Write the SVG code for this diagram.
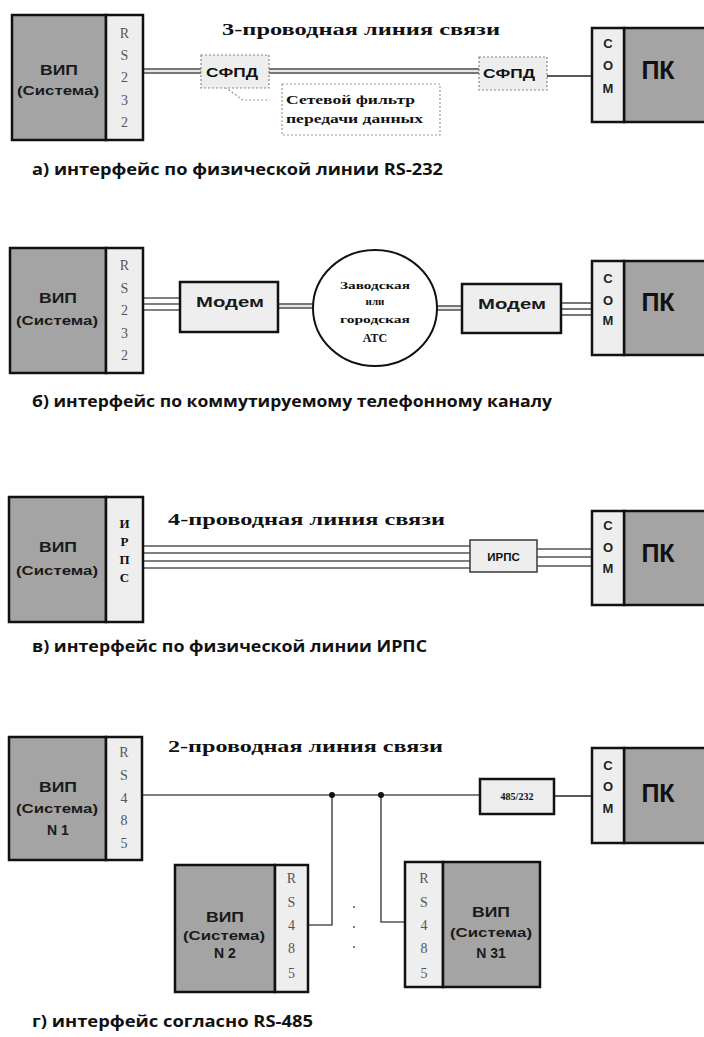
<svg xmlns="http://www.w3.org/2000/svg" width="704" height="1037" viewBox="0 0 704 1037">
<style>
.g{fill:#a4a4a4;stroke:#111;stroke-width:2.5}
.s{fill:#eeeeee;stroke:#111;stroke-width:2.5}
.bx{fill:#eeeeee;stroke:#111;stroke-width:2.5}
.dash{fill:#eeeeee;stroke:#888;stroke-width:1.2;stroke-dasharray:2 2}
.dashn{fill:none;stroke:#999;stroke-width:1.2;stroke-dasharray:2 2}
.sans{font-family:"Liberation Sans",Arial,sans-serif;font-weight:bold;fill:#111}
.vip{font-family:"Liberation Sans",Arial,sans-serif;font-weight:bold;fill:#1a1a1a;text-anchor:middle}
.ser{font-family:"Liberation Serif","Times New Roman",serif;fill:#555;font-size:14px;text-anchor:middle}
.serb{font-family:"Liberation Serif","Times New Roman",serif;font-weight:bold;fill:#111}
.com{font-family:"Liberation Sans",Arial,sans-serif;font-weight:bold;fill:#222;font-size:13px;text-anchor:middle}
.pk{font-family:"Liberation Sans",Arial,sans-serif;font-weight:bold;fill:#111;font-size:25px;text-anchor:middle}
.cap{font-family:"Open Sans","Noto Sans",sans-serif;font-weight:bold;fill:#111;font-size:16px}
.w{stroke:#555;stroke-width:1.6;fill:none}
.wd{stroke:#222;stroke-width:1.6;fill:none}
.bandO{stroke:#777;stroke-width:6;fill:none}
.bandI{stroke:#e6e6e6;stroke-width:2;fill:none}
</style>

<!-- ================= connectors ================= -->
<g id="connectors">
  <!-- panel a -->
  <line class="bandO" x1="143" y1="71" x2="201" y2="71"/>
  <line class="bandI" x1="143" y1="71" x2="201" y2="71"/>
  <line class="bandO" x1="269" y1="71" x2="479" y2="71"/>
  <line class="bandI" x1="269" y1="71" x2="479" y2="71"/>
  <line class="wd" x1="547" y1="76" x2="592" y2="76"/>
  <polyline class="dashn" points="222,85 243,100 270,100"/>
  <!-- panel b -->
  <line class="w" x1="143" y1="298" x2="180" y2="298"/>
  <line class="w" x1="143" y1="304" x2="180" y2="304"/>
  <line class="w" x1="143" y1="310" x2="180" y2="310"/>
  <line class="bandO" x1="278" y1="306" x2="313" y2="306"/>
  <line class="bandI" x1="278" y1="306" x2="313" y2="306"/>
  <line class="bandO" x1="437" y1="308" x2="462" y2="308"/>
  <line class="bandI" x1="437" y1="308" x2="462" y2="308"/>
  <line class="w" x1="561" y1="303" x2="592" y2="303"/>
  <line class="w" x1="561" y1="309" x2="592" y2="309"/>
  <line class="w" x1="561" y1="315" x2="592" y2="315"/>
  <!-- panel v -->
  <line class="w" x1="143" y1="546" x2="470" y2="546"/>
  <line class="w" x1="143" y1="553" x2="470" y2="553"/>
  <line class="w" x1="143" y1="561" x2="470" y2="561"/>
  <line class="w" x1="143" y1="568" x2="470" y2="568"/>
  <line class="w" x1="537" y1="549" x2="592" y2="549"/>
  <line class="w" x1="537" y1="557" x2="592" y2="557"/>
  <line class="w" x1="537" y1="566" x2="592" y2="566"/>
  <!-- panel g -->
  <line class="w" x1="142" y1="795" x2="480" y2="795"/>
  <line class="wd" x1="554" y1="796" x2="592" y2="796"/>
  <polyline class="w" points="332,795 332,925 308,925"/>
  <polyline class="w" points="381,795 381,922 405,922"/>
  <circle cx="332" cy="795" r="3" fill="#111"/>
  <circle cx="381" cy="795" r="3" fill="#111"/>
  <circle cx="354" cy="907" r="1" fill="#555"/>
  <circle cx="354" cy="927" r="1" fill="#555"/>
  <circle cx="354" cy="947" r="1" fill="#555"/>
</g>

<!-- ================= panel a ================= -->
<g id="vip-a">
  <rect class="g" x="12" y="15" width="94" height="125"/>
  <rect class="s" x="106" y="15" width="37" height="125"/>
  <text class="vip" x="59" y="75" font-size="14" textLength="38" lengthAdjust="spacingAndGlyphs">ВИП</text>
  <text class="vip" x="58" y="95" font-size="13" textLength="82" lengthAdjust="spacingAndGlyphs">(Система)</text>
  <text class="ser" x="124.5" y="38">R</text>
  <text class="ser" x="124.5" y="60">S</text>
  <text class="ser" x="124.5" y="82">2</text>
  <text class="ser" x="124.5" y="105">3</text>
  <text class="ser" x="124.5" y="127">2</text>
</g>
<g id="sfpd-1">
  <rect class="dash" x="201" y="55" width="68" height="33"/>
  <text class="sans" x="206" y="77" font-size="13" textLength="52" lengthAdjust="spacingAndGlyphs">СФПД</text>
</g>
<g id="sfpd-2">
  <rect class="dash" x="479" y="57" width="68" height="33"/>
  <text class="sans" x="483" y="78" font-size="13" textLength="52" lengthAdjust="spacingAndGlyphs">СФПД</text>
</g>
<g id="note-a">
  <rect class="dashn" x="282" y="84" width="158" height="51"/>
  <text class="serb" x="286" y="104" font-size="12.5" textLength="129" lengthAdjust="spacingAndGlyphs">Сетевой фильтр</text>
  <text class="serb" x="286" y="123" font-size="12.5" textLength="137" lengthAdjust="spacingAndGlyphs">передачи данных</text>
</g>
<text class="serb" x="222" y="35" font-size="16" textLength="278" lengthAdjust="spacingAndGlyphs">3-проводная линия связи</text>
<g id="pk-a">
  <rect class="g" x="624" y="28" width="90" height="94"/>
  <rect class="s" x="592" y="28" width="32" height="94"/>
  <text class="com" x="608" y="48">C</text>
  <text class="com" x="608" y="70">O</text>
  <text class="com" x="608" y="93">M</text>
  <text class="pk" x="658" y="79">ПК</text>
</g>
<text class="cap" x="32" y="175" textLength="411" lengthAdjust="spacingAndGlyphs">а) интерфейс по физической линии RS-232</text>

<!-- ================= panel b ================= -->
<g id="vip-b">
  <rect class="g" x="10" y="248" width="96" height="125"/>
  <rect class="s" x="106" y="248" width="37" height="125"/>
  <text class="vip" x="58" y="303" font-size="14" textLength="38" lengthAdjust="spacingAndGlyphs">ВИП</text>
  <text class="vip" x="57" y="325" font-size="13" textLength="82" lengthAdjust="spacingAndGlyphs">(Система)</text>
  <text class="ser" x="124.5" y="270">R</text>
  <text class="ser" x="124.5" y="293">S</text>
  <text class="ser" x="124.5" y="315">2</text>
  <text class="ser" x="124.5" y="338">3</text>
  <text class="ser" x="124.5" y="360">2</text>
</g>
<g id="modem-1">
  <rect class="bx" x="180" y="282" width="98" height="50"/>
  <text class="vip" x="230" y="307" font-size="14" textLength="68" lengthAdjust="spacingAndGlyphs">Модем</text>
</g>
<g id="ats">
  <ellipse cx="375" cy="308" rx="62" ry="58" fill="#fff" stroke="#111" stroke-width="2"/>
  <text class="serb" x="375" y="289" font-size="11" text-anchor="middle" fill="#333" textLength="70" lengthAdjust="spacingAndGlyphs">Заводская</text>
  <text class="serb" x="375" y="305" font-size="11" text-anchor="middle" fill="#333">или</text>
  <text class="serb" x="375" y="323" font-size="11" text-anchor="middle" fill="#333" textLength="70" lengthAdjust="spacingAndGlyphs">городская</text>
  <text class="serb" x="375" y="342" font-size="12" text-anchor="middle" fill="#333">АТС</text>
</g>
<g id="modem-2">
  <rect class="bx" x="462" y="284" width="99" height="49"/>
  <text class="vip" x="512" y="309" font-size="14" textLength="68" lengthAdjust="spacingAndGlyphs">Модем</text>
</g>
<g id="pk-b">
  <rect class="g" x="624" y="261" width="90" height="94"/>
  <rect class="s" x="592" y="261" width="32" height="94"/>
  <text class="com" x="608" y="283">C</text>
  <text class="com" x="608" y="305">O</text>
  <text class="com" x="608" y="325">M</text>
  <text class="pk" x="658" y="311">ПК</text>
</g>
<text class="cap" x="32" y="407" textLength="520" lengthAdjust="spacingAndGlyphs">б) интерфейс по коммутируемому телефонному каналу</text>

<!-- ================= panel v ================= -->
<g id="vip-v">
  <rect class="g" x="9" y="497" width="97" height="125"/>
  <rect class="s" x="106" y="497" width="37" height="125"/>
  <text class="vip" x="58" y="552" font-size="14" textLength="38" lengthAdjust="spacingAndGlyphs">ВИП</text>
  <text class="vip" x="57" y="575" font-size="13" textLength="82" lengthAdjust="spacingAndGlyphs">(Система)</text>
  <text class="serb" x="124.5" y="528" font-size="13" text-anchor="middle" fill="#333">И</text>
  <text class="serb" x="124.5" y="546" font-size="13" text-anchor="middle" fill="#333">Р</text>
  <text class="serb" x="124.5" y="564" font-size="13" text-anchor="middle" fill="#333">П</text>
  <text class="serb" x="124.5" y="582" font-size="13" text-anchor="middle" fill="#333">С</text>
</g>
<text class="serb" x="168" y="525" font-size="16" textLength="277" lengthAdjust="spacingAndGlyphs">4-проводная линия связи</text>
<g id="irps">
  <rect x="470" y="540" width="67" height="32" fill="#eeeeee" stroke="#444" stroke-width="1.6"/>
  <text class="sans" x="503.5" y="561" font-size="11.5" text-anchor="middle" fill="#333">ИРПС</text>
</g>
<g id="pk-v">
  <rect class="g" x="624" y="511" width="90" height="94"/>
  <rect class="s" x="592" y="511" width="32" height="94"/>
  <text class="com" x="608" y="530">C</text>
  <text class="com" x="608" y="552">O</text>
  <text class="com" x="608" y="573">M</text>
  <text class="pk" x="658" y="562">ПК</text>
</g>
<text class="cap" x="32" y="652" textLength="395" lengthAdjust="spacingAndGlyphs">в) интерфейс по физической линии ИРПС</text>

<!-- ================= panel g ================= -->
<g id="vip-n1">
  <rect class="g" x="9" y="737" width="97" height="123"/>
  <rect class="s" x="106" y="737" width="36" height="123"/>
  <text class="vip" x="58" y="792" font-size="14" textLength="38" lengthAdjust="spacingAndGlyphs">ВИП</text>
  <text class="vip" x="57" y="813" font-size="13" textLength="82" lengthAdjust="spacingAndGlyphs">(Система)</text>
  <text class="vip" x="58" y="835" font-size="14">N 1</text>
  <text class="ser" x="124" y="757">R</text>
  <text class="ser" x="124" y="780">S</text>
  <text class="ser" x="124" y="803">4</text>
  <text class="ser" x="124" y="825">8</text>
  <text class="ser" x="124" y="848">5</text>
</g>
<text class="serb" x="168" y="752" font-size="16" textLength="275" lengthAdjust="spacingAndGlyphs">2-проводная линия связи</text>
<g id="conv-485">
  <rect class="bx" x="480" y="779" width="74" height="35"/>
  <text class="serb" x="517" y="800" font-size="10" text-anchor="middle" fill="#333">485/232</text>
</g>
<g id="pk-g">
  <rect class="g" x="624" y="748" width="90" height="95"/>
  <rect class="s" x="592" y="748" width="32" height="95"/>
  <text class="com" x="608" y="770">C</text>
  <text class="com" x="608" y="791">O</text>
  <text class="com" x="608" y="813">M</text>
  <text class="pk" x="658" y="802">ПК</text>
</g>
<g id="vip-n2">
  <rect class="g" x="175" y="865" width="100" height="127"/>
  <rect class="s" x="275" y="865" width="33" height="127"/>
  <text class="vip" x="225" y="922" font-size="14" textLength="38" lengthAdjust="spacingAndGlyphs">ВИП</text>
  <text class="vip" x="224" y="940" font-size="13" textLength="82" lengthAdjust="spacingAndGlyphs">(Система)</text>
  <text class="vip" x="225" y="958" font-size="14">N 2</text>
  <text class="ser" x="291.5" y="883">R</text>
  <text class="ser" x="291.5" y="907">S</text>
  <text class="ser" x="291.5" y="930">4</text>
  <text class="ser" x="291.5" y="953">8</text>
  <text class="ser" x="291.5" y="978">5</text>
</g>
<g id="vip-n31">
  <rect class="s" x="405" y="862" width="38" height="125"/>
  <rect class="g" x="443" y="862" width="97" height="125"/>
  <text class="vip" x="491" y="917" font-size="14" textLength="38" lengthAdjust="spacingAndGlyphs">ВИП</text>
  <text class="vip" x="491" y="937" font-size="13" textLength="82" lengthAdjust="spacingAndGlyphs">(Система)</text>
  <text class="vip" x="491" y="958" font-size="14">N 31</text>
  <text class="ser" x="424" y="883">R</text>
  <text class="ser" x="424" y="907">S</text>
  <text class="ser" x="424" y="930">4</text>
  <text class="ser" x="424" y="953">8</text>
  <text class="ser" x="424" y="978">5</text>
</g>
<text class="cap" x="32" y="1027" textLength="281" lengthAdjust="spacingAndGlyphs">г) интерфейс согласно RS-485</text>
</svg>
